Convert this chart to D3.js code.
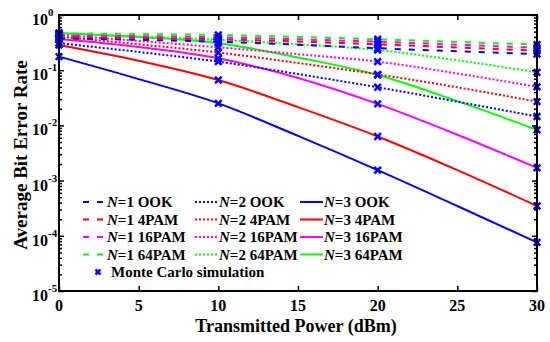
<!DOCTYPE html>
<html><head><meta charset="utf-8">
<script src="https://cdn.jsdelivr.net/npm/d3@7"></script>
<style>
body{margin:0;background:#fff;}
text{font-family:"Liberation Serif","Times New Roman",serif;font-weight:bold;}
</style></head>
<body><svg id="c" width="550" height="342"></svg>
<script>
const powers = [0, 5, 10, 15, 20, 25, 30];
const mcPowers = [0, 10, 20, 30];
// N=1 (dashed)
const n1OOK   = [0.378, 0.355, 0.328, 0.29, 0.25, 0.22, 0.196];
const n14PAM  = [0.404, 0.385, 0.363, 0.33, 0.294, 0.258, 0.225];
const n116PAM = [0.434, 0.415, 0.394, 0.362, 0.328, 0.29, 0.255];
const n164PAM = [0.466, 0.452, 0.434, 0.40, 0.363, 0.325, 0.29];
// N=2 (dotted)
const n2OOK   = [0.309, 0.214, 0.143, 0.0851, 0.049, 0.0269, 0.0145];
const n24PAM  = [0.407, 0.295, 0.209, 0.135, 0.0841, 0.049, 0.0269];
const n216PAM = [0.437, 0.339, 0.26, 0.195, 0.143, 0.0871, 0.05];
const n264PAM = [0.468, 0.407, 0.355, 0.295, 0.232, 0.151, 0.0912];
// N=3 (solid)
const n3OOK   = [0.176, 0.069, 0.0251, 0.00646, 0.00155, 0.000347, 0.000076];
const n34PAM  = [0.286, 0.148, 0.0664, 0.0214, 0.0063, 0.00155, 0.000347];
const n316PAM = [0.367, 0.263, 0.164, 0.0724, 0.0245, 0.00676, 0.0017];
const n364PAM = [0.468, 0.398, 0.309, 0.17, 0.0818, 0.0275, 0.0083];

const xTicks = [0, 5, 10, 15, 20, 25, 30];
const yTickExps = [0, -1, -2, -3, -4, -5];

const colors = {OOK:"#0000ff", "4PAM":"#ff0000", "16PAM":"#ff00ff", "64PAM":"#00ff00"};
const styles = {1:"6,8", 2:"2,2", 3:null};

const series = [
  {N:1, mod:"OOK", v:n1OOK},{N:2, mod:"OOK", v:n2OOK},{N:3, mod:"OOK", v:n3OOK},
  {N:1, mod:"4PAM", v:n14PAM},{N:2, mod:"4PAM", v:n24PAM},{N:3, mod:"4PAM", v:n34PAM},
  {N:1, mod:"16PAM", v:n116PAM},{N:2, mod:"16PAM", v:n216PAM},{N:3, mod:"16PAM", v:n316PAM},
  {N:1, mod:"64PAM", v:n164PAM},{N:2, mod:"64PAM", v:n264PAM},{N:3, mod:"64PAM", v:n364PAM}
];

const L=59, R=537, T=15, B=291;
const svg = d3.select("#c");
const x = d3.scaleLinear().domain([0,30]).range([L,R]);
const y = d3.scaleLog().domain([1e-5,1]).range([B,T]);

const line = d3.line().x(d=>x(d[0])).y(d=>y(d[1])).curve(d3.curveMonotoneX);
const plotOrder = [...series].sort((a,b)=>b.N-a.N);
plotOrder.forEach(s=>{
  svg.append("path").attr("d", line(powers.map((p,i)=>[p,s.v[i]])))
    .attr("fill","none").attr("stroke",colors[s.mod]).attr("stroke-width",2)
    .attr("stroke-dasharray",styles[s.N]);
});
// Monte Carlo markers
const cross = (g,cx,cy,r)=>{
  g.append("path").attr("d",`M${cx-r},${cy-r}L${cx+r},${cy+r}M${cx-r},${cy+r}L${cx+r},${cy-r}`)
   .attr("stroke","#0000ff").attr("stroke-width",2.5).attr("fill","none");
};
series.forEach(s=>{
  mcPowers.forEach(p=>{
    const i = powers.indexOf(p);
    cross(svg, x(p), y(s.v[i]), 3.3);
  });
});

// axes
const axG = svg.append("g");
axG.append("g").attr("transform",`translate(0,${B})`)
  .call(d3.axisBottom(x).tickValues(xTicks).tickSize(-5).tickFormat(""));
axG.append("g").attr("transform",`translate(0,${T})`)
  .call(d3.axisTop(x).tickValues(xTicks).tickSize(-5).tickFormat(""));
const major = yTickExps.map(e=>Math.pow(10,e));
const minor = [];
for (let e=-5;e<0;e++) for (let k=2;k<=9;k++) minor.push(k*Math.pow(10,e));
axG.append("g").attr("transform",`translate(${L},0)`)
  .call(d3.axisLeft(y).tickValues(major).tickSize(-5).tickFormat(""));
axG.append("g").attr("transform",`translate(${L},0)`)
  .call(d3.axisLeft(y).tickValues(minor).tickSize(-3).tickFormat(""));
axG.append("g").attr("transform",`translate(${R},0)`)
  .call(d3.axisRight(y).tickValues(major).tickSize(-5).tickFormat(""));
axG.append("g").attr("transform",`translate(${R},0)`)
  .call(d3.axisRight(y).tickValues(minor).tickSize(-3).tickFormat(""));
axG.selectAll(".domain").remove();
axG.selectAll(".tick line").attr("stroke","#000").attr("stroke-width",1.5);
svg.append("rect").attr("x",L).attr("y",T).attr("width",R-L).attr("height",B-T)
  .attr("fill","none").attr("stroke","#000").attr("stroke-width",2);

// tick labels
xTicks.forEach(t=>{
  svg.append("text").attr("x",x(t)).attr("y",B+20).attr("text-anchor","middle")
    .attr("font-size",16).text(t);
});
yTickExps.forEach(e=>{
  const yy = y(Math.pow(10,e));
  svg.append("text").attr("x",48).attr("y",yy+10).attr("text-anchor","end")
    .attr("font-size",16).text("10");
  svg.append("text").attr("x",48).attr("y",yy+1).attr("text-anchor","start")
    .attr("font-size",11).text(e);
});

// axis titles
svg.append("text").attr("x",(L+R)/2 - 2).attr("y",332).attr("text-anchor","middle")
  .attr("font-size",18).text("Transmitted Power (dBm)");
svg.append("text").attr("transform",`translate(27,${(T+B)/2 + 2}) rotate(-90)`)
  .attr("text-anchor","middle").attr("font-size",19).text("Average Bit Error Rate");

// legend
const colX = [83, 195, 300];
const rowY = [202, 219.5, 237, 254.5];
const mods = ["OOK","4PAM","16PAM","64PAM"];
series.forEach(s=>{
  const cx = colX[s.N-1], ry = rowY[mods.indexOf(s.mod)];
  svg.append("line").attr("x1",cx).attr("x2",cx+23).attr("y1",ry).attr("y2",ry)
    .attr("stroke",colors[s.mod]).attr("stroke-width",2).attr("stroke-dasharray",styles[s.N]);
  const t = svg.append("text").attr("x",cx+24).attr("y",ry+5).attr("font-size",15);
  t.append("tspan").attr("font-style","italic").text("N");
  t.append("tspan").text(`=${s.N} ${s.mod}`);
});
cross(svg, 98, 272, 2.5);
svg.append("text").attr("x",111).attr("y",277).attr("font-size",15).text("Monte Carlo simulation");
</script></body></html>
